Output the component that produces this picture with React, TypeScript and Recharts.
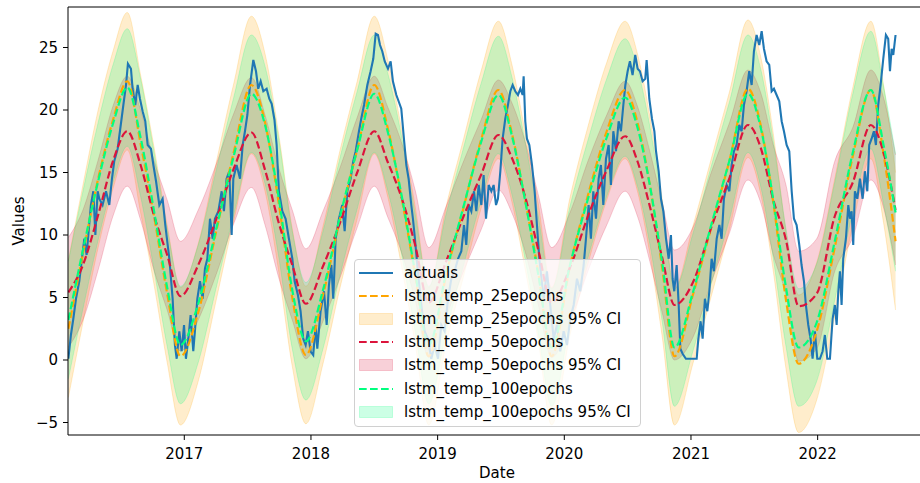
import { Area, ComposedChart, Line, ReferenceLine, XAxis, YAxis } from "recharts";

const FONT = "'DejaVu Sans', sans-serif";

const BLUE = "#1f77b4";
const ORANGE = "#ffa500";
const CRIMSON = "#dc143c";
const SPRING = "#00ff7f";

// x values are decimal years
const yearTicks = [2017, 2018, 2019, 2020, 2021, 2022];
const valueTicks = [-5, 0, 5, 10, 15, 20, 25];
const xDomain = [2016.082, 2022.808];
const yDomain = [-6.0, 28.24];

// shared dates for the three model forecasts (troughs, peaks and points between)
const forecastDates = [
  2016.085, 2016.2, 2016.32, 2016.44, 2016.55,
  2016.655, 2016.76, 2016.865, 2016.97,
  2017.11, 2017.25, 2017.39, 2017.53,
  2017.6375, 2017.745, 2017.8525, 2017.96,
  2018.095, 2018.23, 2018.365, 2018.5,
  2018.6075, 2018.715, 2018.8225, 2018.93,
  2019.0675, 2019.205, 2019.3425, 2019.48,
  2019.585, 2019.69, 2019.795, 2019.9,
  2020.045, 2020.19, 2020.335, 2020.48,
  2020.5775, 2020.675, 2020.7725, 2020.87,
  2021.015, 2021.16, 2021.305, 2021.45,
  2021.55, 2021.65, 2021.75, 2021.85,
  2021.9925, 2022.135, 2022.2775, 2022.42,
  2022.52, 2022.615,
];

const lstm25 = [
  2.5, 8.5, 14.5, 19.3, 22.3,
  17.3, 11.6, 5.3, 0.3,
  3.8, 10.2, 16.6, 22.0,
  19.0, 12.6, 5.0, 0.4,
  5.2, 11.3, 16.8, 22.0,
  18.5, 13.0, 6.8, 0.3,
  6.8, 12.2, 17.6, 21.6,
  18.2, 12.8, 7.0, 0.3,
  7.5, 13.3, 18.3, 21.6,
  19.0, 14.0, 7.4, 0.3,
  5.2, 10.6, 16.0, 21.7,
  18.8, 12.6, 4.8, -0.3,
  2.3, 9.0, 16.3, 21.6,
  16.5, 9.5,
];

const lstm50 = [
  5.4, 7.6, 11.6, 16.0, 18.3,
  15.6, 11.6, 8.4, 5.1,
  7.6, 11.2, 15.3, 18.2,
  15.2, 11.0, 7.6, 4.5,
  7.5, 11.0, 15.0, 18.3,
  15.8, 13.0, 9.2, 4.6,
  7.9, 11.5, 14.8, 18.0,
  16.2, 13.1, 8.8, 4.6,
  7.4, 11.6, 15.2, 17.9,
  15.9, 12.3, 8.2, 4.4,
  6.2, 10.6, 14.6, 18.8,
  17.0, 12.8, 9.6, 4.3,
  5.3, 11.5, 14.2, 18.8,
  16.6, 12.0,
];

const lstm100 = [
  3.2, 8.8, 14.3, 19.0, 21.8,
  17.8, 12.0, 5.8, 1.2,
  4.5, 10.4, 16.3, 21.3,
  18.8, 13.0, 5.6, 1.5,
  5.6, 11.5, 16.8, 21.3,
  18.2, 13.2, 7.0, 1.2,
  7.0, 12.3, 17.4, 21.2,
  18.0, 12.8, 6.8, 1.0,
  7.6, 13.0, 17.8, 21.0,
  18.6, 14.0, 7.8, 1.0,
  5.4, 10.8, 16.0, 21.3,
  18.6, 12.8, 5.8, 1.0,
  3.0, 9.5, 16.6, 21.6,
  17.2, 11.8,
];

// 95% CI half widths
const ci25 = 5.5;
const ci50 = 4.4;
const ci100 = 4.7;

// [decimal year, value]
const actuals: [number, number][] = [
  [2016.085, 0.1], [2016.105, 2.0], [2016.124, 3.3], [2016.145, 4.9], [2016.171, 6.3],
  [2016.192, 8.1], [2016.211, 9.7], [2016.229, 8.4], [2016.245, 10.3], [2016.263, 12.4],
  [2016.282, 13.5], [2016.298, 10.0], [2016.316, 13.5], [2016.329, 12.9], [2016.355, 12.4],
  [2016.382, 13.5], [2016.408, 12.4], [2016.429, 14.5], [2016.447, 15.9], [2016.474, 16.9],
  [2016.492, 18.3], [2016.519, 20.4], [2016.54, 22.0], [2016.555, 23.7], [2016.579, 23.3],
  [2016.592, 21.7], [2016.613, 20.4], [2016.632, 22.0], [2016.65, 20.9], [2016.671, 19.9],
  [2016.692, 19.1], [2016.711, 17.2], [2016.737, 16.9], [2016.756, 15.6], [2016.777, 14.3],
  [2016.803, 12.4], [2016.829, 12.9], [2016.85, 10.8], [2016.882, 8.1], [2016.908, 4.9],
  [2016.926, 1.2], [2016.94, 0.1], [2016.961, 2.3], [2016.979, 0.7], [2016.998, 2.8],
  [2017.013, 0.1], [2017.032, 1.7], [2017.05, 3.6], [2017.071, 0.7], [2017.084, 2.3],
  [2017.103, 4.9], [2017.124, 6.3], [2017.145, 4.9], [2017.163, 7.3], [2017.182, 8.1],
  [2017.203, 11.3], [2017.224, 9.7], [2017.242, 11.3], [2017.269, 11.9], [2017.295, 13.5],
  [2017.313, 11.9], [2017.334, 14.5], [2017.355, 15.1], [2017.374, 10.0], [2017.387, 14.5],
  [2017.413, 15.6], [2017.44, 14.5], [2017.461, 17.2], [2017.479, 18.3], [2017.498, 19.6],
  [2017.519, 22.0], [2017.545, 24.0], [2017.566, 23.1], [2017.584, 21.7], [2017.603, 22.3],
  [2017.624, 21.5], [2017.65, 21.7], [2017.671, 20.9], [2017.69, 20.5], [2017.712, 19.2],
  [2017.729, 17.2], [2017.747, 13.5], [2017.774, 11.9], [2017.8, 11.3], [2017.826, 9.7],
  [2017.853, 8.1], [2017.871, 6.3], [2017.897, 5.2], [2017.918, 3.9], [2017.939, 1.7],
  [2017.958, 1.2], [2017.976, 2.3], [2017.997, 0.7], [2018.018, 0.4], [2018.037, 2.8],
  [2018.05, 0.9], [2018.076, 3.9], [2018.103, 5.5], [2018.124, 2.8], [2018.142, 6.0],
  [2018.161, 7.6], [2018.176, 4.9], [2018.195, 9.7], [2018.221, 11.3], [2018.247, 12.4],
  [2018.266, 10.3], [2018.287, 13.5], [2018.313, 14.5], [2018.334, 15.9], [2018.353, 16.7],
  [2018.379, 18.3], [2018.397, 19.3], [2018.419, 20.4], [2018.445, 22.0], [2018.471, 23.1],
  [2018.492, 24.1], [2018.511, 26.1], [2018.529, 26.0], [2018.545, 25.2], [2018.563, 24.7],
  [2018.582, 23.9], [2018.608, 23.3], [2018.629, 23.9], [2018.647, 22.3], [2018.674, 21.2],
  [2018.692, 20.7], [2018.713, 20.1], [2018.734, 17.7], [2018.753, 15.6], [2018.771, 14.5],
  [2018.792, 12.4], [2018.805, 11.3], [2018.818, 10.0], [2018.845, 7.0], [2018.871, 4.4],
  [2018.897, 2.3], [2018.924, 1.7], [2018.95, 0.1], [2018.976, 1.2], [2019.003, 0.1],
  [2019.029, 2.8], [2019.055, 2.3], [2019.082, 4.9], [2019.108, 6.5], [2019.134, 7.1],
  [2019.161, 8.1], [2019.187, 8.7], [2019.208, 10.8], [2019.226, 9.2], [2019.245, 12.4],
  [2019.266, 11.9], [2019.287, 13.5], [2019.305, 11.9], [2019.324, 14.0], [2019.345, 12.4],
  [2019.363, 14.8], [2019.382, 11.3], [2019.403, 14.0], [2019.424, 13.5], [2019.442, 14.0],
  [2019.461, 12.4], [2019.476, 12.9], [2019.495, 15.1], [2019.513, 17.7], [2019.534, 19.3],
  [2019.555, 20.4], [2019.574, 21.5], [2019.592, 22.0], [2019.613, 21.5], [2019.634, 21.2],
  [2019.653, 21.7], [2019.671, 21.2], [2019.679, 22.7], [2019.692, 19.1], [2019.705, 17.7],
  [2019.724, 17.2], [2019.745, 15.6], [2019.766, 13.5], [2019.784, 10.8], [2019.803, 8.1],
  [2019.837, 4.9], [2019.863, 7.1], [2019.889, 4.4], [2019.916, 1.7], [2019.942, 2.8],
  [2019.968, 0.7], [2019.995, 2.3], [2020.021, 1.2], [2020.047, 3.3], [2020.074, 4.4],
  [2020.1, 6.5], [2020.126, 5.5], [2020.153, 7.6], [2020.171, 9.7], [2020.192, 12.4],
  [2020.21, 9.7], [2020.229, 13.5], [2020.25, 11.3], [2020.271, 14.5], [2020.289, 15.6],
  [2020.308, 12.4], [2020.329, 16.1], [2020.35, 17.2], [2020.368, 14.0], [2020.387, 18.3],
  [2020.408, 16.7], [2020.429, 19.1], [2020.447, 18.3], [2020.466, 20.4], [2020.482, 22.0],
  [2020.5, 23.1], [2020.518, 23.9], [2020.539, 22.8], [2020.56, 24.4], [2020.579, 23.3],
  [2020.597, 23.1], [2020.618, 22.3], [2020.639, 22.5], [2020.65, 24.0], [2020.671, 20.9],
  [2020.692, 19.3], [2020.711, 18.3], [2020.724, 16.7], [2020.745, 15.1], [2020.763, 12.9],
  [2020.782, 11.9], [2020.803, 9.7], [2020.824, 8.1], [2020.842, 10.0], [2020.855, 6.5],
  [2020.868, 5.5], [2020.887, 7.6], [2020.903, 4.4], [2020.916, 0.9], [2020.934, 0.5],
  [2020.96, 0.1], [2021.045, 0.1], [2021.058, 1.7], [2021.076, 3.1], [2021.092, 1.7],
  [2021.11, 4.9], [2021.129, 3.9], [2021.145, 5.5], [2021.163, 8.1], [2021.181, 7.1],
  [2021.203, 9.7], [2021.224, 10.8], [2021.242, 9.7], [2021.26, 12.9], [2021.282, 14.0],
  [2021.303, 13.5], [2021.321, 15.6], [2021.339, 16.7], [2021.36, 17.2], [2021.381, 18.8],
  [2021.4, 18.3], [2021.418, 20.4], [2021.439, 21.5], [2021.46, 23.1], [2021.479, 22.0],
  [2021.497, 24.7], [2021.518, 26.0], [2021.539, 25.2], [2021.558, 26.3], [2021.576, 24.9],
  [2021.597, 23.9], [2021.618, 23.6], [2021.637, 21.5], [2021.655, 21.7], [2021.676, 21.2],
  [2021.697, 20.7], [2021.716, 19.1], [2021.734, 18.3], [2021.755, 17.2], [2021.776, 16.7],
  [2021.795, 13.5], [2021.813, 11.3], [2021.834, 10.8], [2021.855, 9.2], [2021.873, 7.6],
  [2021.892, 6.3], [2021.907, 4.4], [2021.926, 2.8], [2021.944, 1.7], [2021.96, 0.1],
  [2021.978, 2.3], [2021.997, 0.1], [2022.018, 0.1], [2022.039, 0.7], [2022.057, 2.0],
  [2022.076, 0.1], [2022.097, 0.1], [2022.118, 3.3], [2022.136, 4.4], [2022.15, 2.8],
  [2022.163, 5.5], [2022.176, 7.1], [2022.189, 4.4], [2022.202, 8.1], [2022.223, 9.7],
  [2022.242, 12.4], [2022.255, 11.3], [2022.268, 11.9], [2022.281, 9.2], [2022.294, 13.5],
  [2022.313, 12.9], [2022.334, 14.5], [2022.355, 12.9], [2022.373, 15.1], [2022.392, 13.5],
  [2022.407, 17.2], [2022.426, 17.7], [2022.444, 18.3], [2022.46, 17.2], [2022.478, 20.4],
  [2022.497, 22.0], [2022.518, 24.1], [2022.539, 26.0], [2022.557, 25.7], [2022.571, 23.1],
  [2022.584, 24.9], [2022.597, 24.4], [2022.615, 26.0],
];

type Row = {
  x: number;
  actual?: number;
  f25?: number;
  f50?: number;
  f100?: number;
  band25?: [number, number];
  band50?: [number, number];
  band100?: [number, number];
};

function buildRows(): Row[] {
  const byX = new Map<number, Row>();
  const row = (x: number) => {
    let r = byX.get(x);
    if (!r) {
      r = { x };
      byX.set(x, r);
    }
    return r;
  };
  forecastDates.forEach((x, i) => {
    const r = row(x);
    r.f25 = lstm25[i];
    r.f50 = lstm50[i];
    r.f100 = lstm100[i];
    r.band25 = [lstm25[i] - ci25, lstm25[i] + ci25];
    r.band50 = [lstm50[i] - ci50, lstm50[i] + ci50];
    r.band100 = [lstm100[i] - ci100, lstm100[i] + ci100];
  });
  actuals.forEach(([x, v]) => {
    row(x).actual = v;
  });
  return [...byX.values()].sort((a, b) => a.x - b.x);
}

const rows = buildRows();

const legendItems = [
  { label: "actuals", kind: "line", color: BLUE },
  { label: "lstm_temp_25epochs", kind: "dash", color: ORANGE },
  { label: "lstm_temp_25epochs 95% CI", kind: "patch", color: ORANGE },
  { label: "lstm_temp_50epochs", kind: "dash", color: CRIMSON },
  { label: "lstm_temp_50epochs 95% CI", kind: "patch", color: CRIMSON },
  { label: "lstm_temp_100epochs", kind: "dash", color: SPRING },
  { label: "lstm_temp_100epochs 95% CI", kind: "patch", color: SPRING },
];

const fmtValue = (v: number) => (v < 0 ? "\u2212" + Math.abs(v) : String(v));

function ValuesLabel() {
  return (
    <text x={24} y={221} transform="rotate(-90 24 221)" textAnchor="middle"
      fontSize={15} fontFamily={FONT} fill="#000">
      Values
    </text>
  );
}

function DateLabel() {
  return (
    <text x={497} y={478} textAnchor="middle" fontSize={15} fontFamily={FONT} fill="#000">
      Date
    </text>
  );
}

function LegendBox() {
  return (
    <div
      style={{
        position: "absolute",
        left: 354,
        top: 259,
        width: 287,
        height: 168,
        boxSizing: "border-box",
        background: "rgba(255,255,255,0.8)",
        border: "1px solid #d0d0d0",
        borderRadius: 4,
        paddingTop: 1,
        fontFamily: FONT,
        fontSize: 15,
        color: "#000",
      }}
    >
      {legendItems.map((it) => (
        <div key={it.label} style={{ height: 23.2, display: "flex", alignItems: "center" }}>
          <svg width={34} height={14} style={{ marginLeft: 4, marginRight: 11 }}>
            {it.kind === "patch" ? (
              <rect x={0.5} y={1.5} width={33} height={11} fill={it.color} fillOpacity={0.2}
                stroke={it.color} strokeOpacity={0.2} />
            ) : (
              <line x1={0} y1={7} x2={34} y2={7} stroke={it.color} strokeWidth={2}
                strokeDasharray={it.kind === "dash" ? "7.7 3.3" : undefined} />
            )}
          </svg>
          <span style={{ whiteSpace: "nowrap" }}>{it.label}</span>
        </div>
      ))}
    </div>
  );
}

export default function App() {
  const tickStyle = { fill: "#000", fontSize: 15, fontFamily: FONT };
  const band = (key: string, color: string) => (
    <Area
      dataKey={key}
      type="monotone"
      stroke={color}
      strokeOpacity={0.2}
      strokeWidth={1}
      fill={color}
      fillOpacity={0.2}
      connectNulls
      dot={false}
      activeDot={false}
      isAnimationActive={false}
    />
  );
  const dashed = (key: string, color: string) => (
    <Line
      dataKey={key}
      type="monotone"
      stroke={color}
      strokeWidth={2.2}
      strokeDasharray="7.7 3.3"
      connectNulls
      dot={false}
      activeDot={false}
      isAnimationActive={false}
    />
  );
  return (
    <div style={{ position: "absolute", left: 0, top: 0, width: 920, height: 483, background: "#fff" }}>
      <ComposedChart width={920} height={483} data={rows}
        margin={{ top: 7, right: 0, bottom: 0, left: 0 }}>
        {band("band25", ORANGE)}
        {band("band50", CRIMSON)}
        {band("band100", SPRING)}
        <Line dataKey="actual" type="linear" stroke={BLUE} strokeWidth={2.1} connectNulls
          dot={false} activeDot={false} isAnimationActive={false} />
        {dashed("f25", ORANGE)}
        {dashed("f50", CRIMSON)}
        {dashed("f100", SPRING)}
        <XAxis
          dataKey="x"
          type="number"
          domain={xDomain}
          allowDataOverflow
          ticks={yearTicks}
          tickFormatter={(v: number) => String(v)}
          height={48}
          tickSize={5}
          tickMargin={8}
          tick={tickStyle}
          axisLine={{ stroke: "#000", strokeWidth: 1 }}
          tickLine={{ stroke: "#000" }}
          label={<DateLabel />}
        />
        <YAxis
          type="number"
          domain={yDomain}
          allowDataOverflow
          ticks={valueTicks}
          tickFormatter={fmtValue}
          width={68}
          tickSize={5}
          tickMargin={5}
          tick={tickStyle}
          axisLine={{ stroke: "#000", strokeWidth: 1 }}
          tickLine={{ stroke: "#000" }}
          label={<ValuesLabel />}
        />
        <ReferenceLine y={yDomain[1]} stroke="#000" strokeWidth={1} />
      </ComposedChart>
      <LegendBox />
    </div>
  );
}
